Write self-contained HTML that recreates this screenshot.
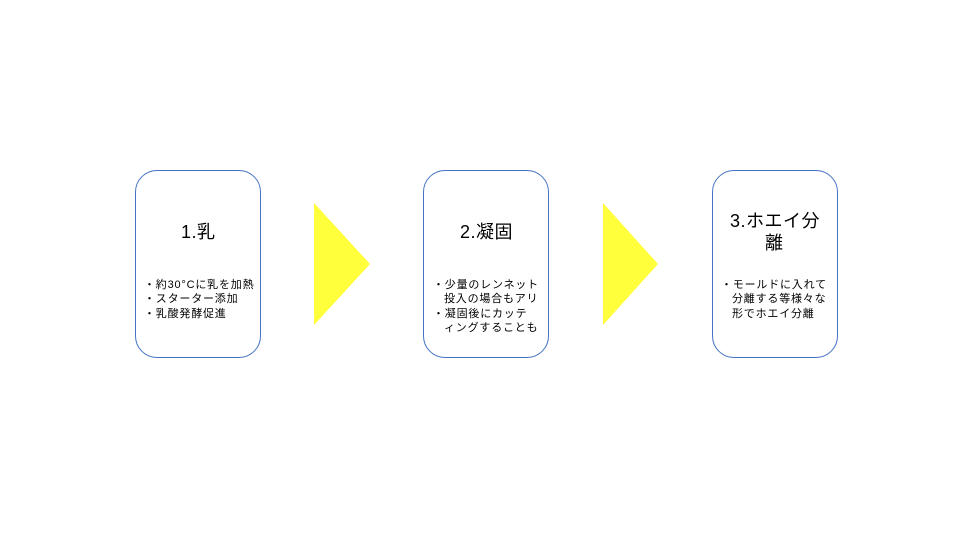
<!DOCTYPE html>
<html><head><meta charset="utf-8"><style>
body{margin:0;width:960px;height:540px;background:#fff;position:relative;overflow:hidden;font-family:"Liberation Sans","Noto Sans CJK JP",sans-serif;color:#000}
.box{position:absolute;top:170px;width:126px;height:188px;border:1.3px solid #4472c4;border-radius:22px;box-sizing:border-box}
.t{position:absolute;font-size:18px;white-space:nowrap;line-height:20px;letter-spacing:0.5px}
.l{position:absolute;font-size:11px;white-space:nowrap;line-height:14px;letter-spacing:0.8px}
</style></head><body>
<div class="box" style="left:135px"></div>
<div class="box" style="left:423px"></div>
<div class="box" style="left:712px"></div>
<svg width="960" height="540" style="position:absolute;left:0;top:0">
<polygon points="314,203 370,264 314,325" fill="#ffff3c"/>
<polygon points="603,203 658,264 603,325" fill="#ffff3c"/>
</svg>
<div class="t" style="left:181px;top:222px">1.乳</div>
<div class="l" style="left:144px;top:278px">・約30°Cに乳を加熱</div>
<div class="l" style="left:144px;top:292px">・スターター添加</div>
<div class="l" style="left:144px;top:307px">・乳酸発酵促進</div>

<div class="t" style="left:460px;top:222px">2.凝固</div>
<div class="l" style="left:433px;top:278px">・少量のレンネット</div>
<div class="l" style="left:444px;top:292px">投入の場合もアリ</div>
<div class="l" style="left:433px;top:307px">・凝固後にカッテ</div>
<div class="l" style="left:444px;top:321px">ィングすることも</div>

<div class="t" style="left:730px;top:211px">3.ホエイ分</div>
<div class="t" style="left:765px;top:233px">離</div>
<div class="l" style="left:721px;top:278px">・モールドに入れて</div>
<div class="l" style="left:732px;top:292px">分離する等様々な</div>
<div class="l" style="left:732px;top:307px">形でホエイ分離</div>
</body></html>
